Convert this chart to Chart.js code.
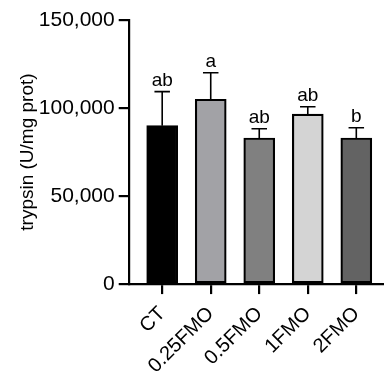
<!DOCTYPE html>
<html>
<head>
<meta charset="utf-8">
<script src="https://cdn.jsdelivr.net/npm/chart.js@4/dist/chart.umd.min.js"></script>
<style>
  html, body { margin: 0; padding: 0; background: #fff; }
  #wrap { width: 384px; height: 374px; }
</style>
</head>
<body>
<div id="wrap"><canvas id="c" width="384" height="374"></canvas></div>
<script>
// Trypsin activity per group: mean and upper SD
const categories = ['CT', '0.25FMO', '0.5FMO', '1FMO', '2FMO'];
const means = [90000, 105000, 83000, 96500, 83000];
const sdUp = [19300, 15000, 5200, 4200, 5800];
const letters = ['ab', 'a', 'ab', 'ab', 'b'];
const barColors = ['#000000', '#a2a2a6', '#808080', '#d4d4d4', '#636363'];
const yTicks = [0, 50000, 100000, 150000];

const FONT = '"Liberation Sans", Arial, Helvetica, sans-serif';

// Error bars (upper only) and significance letters
const errorBarPlugin = {
  id: 'errorBars',
  afterDatasetsDraw(chart) {
    const ctx = chart.ctx;
    const meta = chart.getDatasetMeta(0);
    const yScale = chart.scales.y;
    ctx.save();
    meta.data.forEach((bar, i) => {
      const x = bar.x;
      const yTop = yScale.getPixelForValue(means[i]);
      const yErr = yScale.getPixelForValue(means[i] + sdUp[i]);
      const cap = bar.width * 0.25;
      ctx.strokeStyle = '#000';
      ctx.lineWidth = 1.6;
      ctx.beginPath();
      ctx.moveTo(x, yTop);
      ctx.lineTo(x, yErr);
      ctx.moveTo(x - cap, yErr);
      ctx.lineTo(x + cap, yErr);
      ctx.stroke();
      ctx.fillStyle = '#000';
      ctx.font = '19px ' + FONT;
      ctx.textAlign = 'center';
      ctx.textBaseline = 'alphabetic';
      ctx.fillText(letters[i], x, yErr - 6);
    });
    ctx.restore();
  }
};

new Chart(document.getElementById('c'), {
  type: 'bar',
  data: {
    datasets: [{
      data: means.map((v, i) => ({ x: i, y: v })),
      backgroundColor: barColors,
      borderColor: '#000',
      borderWidth: 2.2,
      borderSkipped: false,
      barThickness: 31
    }]
  },
  options: {
    responsive: false,
    animation: false,
    devicePixelRatio: 1,
    layout: { padding: { top: 20, right: 1, left: 12, bottom: -12 } },
    plugins: { legend: { display: false }, tooltip: { enabled: false } },
    scales: {
      x: {
        type: 'linear',
        offset: false,
        min: -0.69,
        max: 4.55,
        afterBuildTicks(scale) {
          scale.ticks = categories.map((_, i) => ({ value: i }));
        },
        ticks: {
          autoSkip: false,
          minRotation: 45,
          maxRotation: 45,
          padding: 8,
          color: '#000',
          font: { family: FONT, size: 20 },
          callback: (v) => categories[v]
        },
        grid: { offset: false, drawOnChartArea: false, drawTicks: true, tickLength: 10, color: '#000', lineWidth: 2.2 },
        border: { color: '#000', width: 2.2 }
      },
      y: {
        min: 0,
        max: 150000,
        afterBuildTicks(scale) {
          scale.ticks = yTicks.map(v => ({ value: v }));
        },
        ticks: {
          padding: 4,
          color: '#000',
          font: { family: FONT, size: 21 },
          callback: (v) => v.toLocaleString('en-US')
        },
        grid: { drawOnChartArea: false, drawTicks: true, tickLength: 10, color: '#000', lineWidth: 2.2 },
        border: { color: '#000', width: 2.2 },
        title: {
          display: true,
          text: 'trypsin (U/mg prot)',
          color: '#000',
          font: { family: FONT, size: 19 },
          padding: { top: 4, bottom: -4 }
        }
      }
    }
  },
  plugins: [errorBarPlugin]
});
</script>
</body>
</html>
